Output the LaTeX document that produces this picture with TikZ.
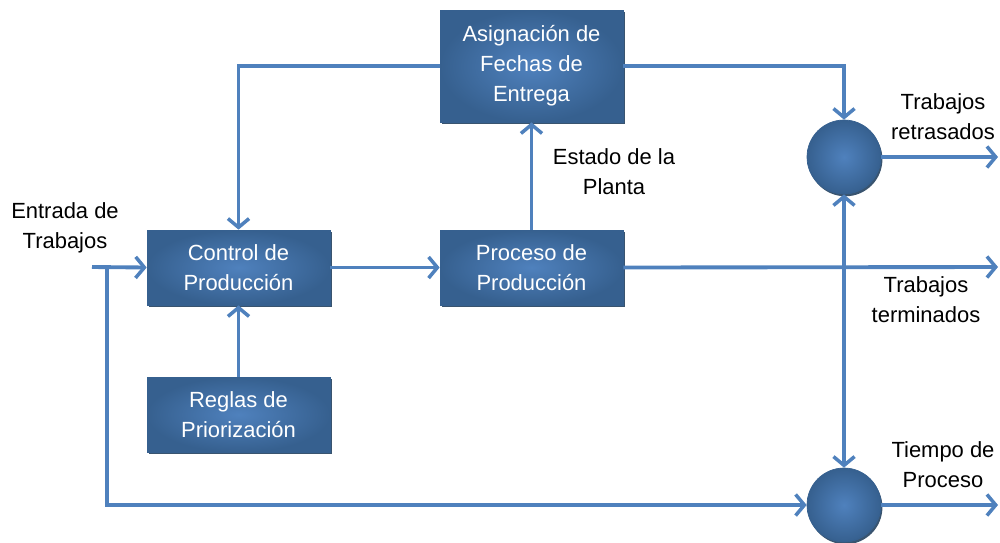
\documentclass[tikz,border=0pt]{standalone}
\usepackage{fontspec}
\setmainfont{Liberation Sans}
\usetikzlibrary{arrows.meta,shadows}
\definecolor{lineblue}{HTML}{4F81BD}
\definecolor{boxin}{HTML}{4F81BD}
\definecolor{boxout}{HTML}{36608F}
\definecolor{shadowc}{HTML}{24415F}
\begin{document}
\begin{tikzpicture}[x=0.02cm,y=-0.02cm,
  txt/.style={font=\fontsize{12.5}{17}\selectfont},
  blk/.style={txt, rectangle, minimum width=3.66cm, minimum height=1.5cm,
    inner color=boxin, outer color=boxout, draw=boxout, line width=0.4pt,
    text=white, align=center,
    drop shadow={shadow xshift=1pt, shadow yshift=-1.3pt, fill=shadowc, opacity=0.9}},
  circ/.style={circle, minimum size=1.48cm, inner sep=0pt,
    inner color=boxin, outer color=boxout, draw=boxout, line width=0.4pt,
    drop shadow={shadow xshift=0.8pt, shadow yshift=-1.3pt, fill=shadowc, opacity=0.9}},
  lbl/.style={txt, align=center, inner sep=0pt, text=black},
  tip/.style={Straight Barb[length=5pt,width=12pt,line width=2pt]},
  conn/.style={draw=lineblue, line width=2.2pt, -{Straight Barb[length=5pt,width=12pt,line width=2pt]}}
]
\useasboundingbox (0,0) rectangle (1000,542);

% blocks
\node[blk] (ctrl) at (238.5,267.5) {Control de\\Producción};
\node[blk] (proc) at (531.5,267.5) {Proceso de\\Producción};
\node[blk, minimum height=2.24cm] (asig) at (531.5,66) {Asignación de\\Fechas de\\Entrega};
\node[blk] (regl) at (238.5,414.5) {Reglas de\\Priorización};
\node[circ] (c1) at (844,157) {};
\node[circ] (c2) at (844,505) {};

% free ends
\coordinate (inE) at (92,267);
\coordinate (br) at (107,267);
\coordinate (outR) at (998,157);
\coordinate (outT) at (998,267);
\coordinate (outP) at (998,505);

% connectors
\draw[conn] (asig.west) -| (ctrl.north);
\draw[conn] (asig.east) -| (c1.north);
\draw[conn] (proc.north) -- (asig.south);
\draw[conn] (regl.north) -- (ctrl.south);
\draw[conn] (ctrl.east) -- (proc.west);
\draw[conn] (proc.east) -- (outT);
\draw[conn] (c1.east) -- (outR);
\draw[conn] (c2.east) -- (outP);
\draw[conn, {Straight Barb[length=5pt,width=12pt,line width=2pt]}-{Straight Barb[length=5pt,width=12pt,line width=2pt]}] (c2.north) -- (c1.south);
\draw[conn] (inE) -- (ctrl.west);
\draw[conn] (br) |- (c2.west);

% labels
\node[lbl] (lEnt) at (65,228) {Entrada de\\Trabajos};
\node[lbl] (lEst) at (614,172) {Estado de la\\Planta};
\node[lbl] (lRet) at (943,117) {Trabajos\\retrasados};
\node[lbl] (lTer) at (926,300) {Trabajos\\terminados};
\node[lbl] (lTie) at (943,465) {Tiempo de\\Proceso};
\end{tikzpicture}
\end{document}
